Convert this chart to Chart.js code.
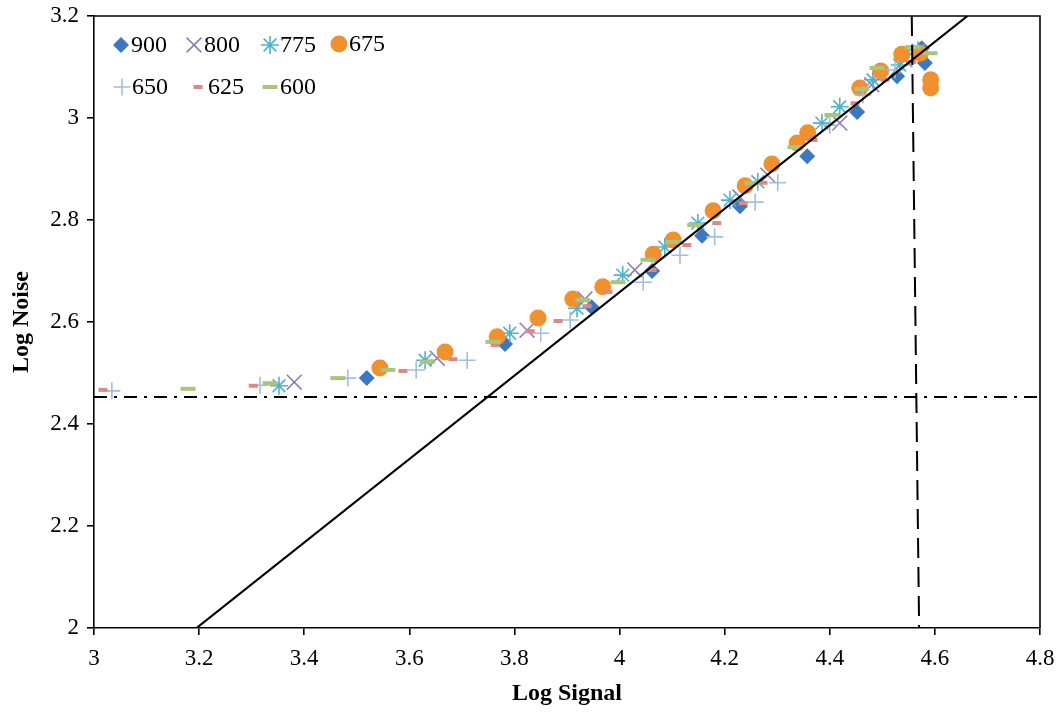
<!DOCTYPE html>
<html><head><meta charset="utf-8">
<script src="https://cdn.jsdelivr.net/npm/chart.js@4.4.1/dist/chart.umd.min.js"></script>
<style>html,body{margin:0;padding:0;background:#fff}#wrap{width:1059px;height:713px}</style>
</head><body><div id="wrap"><canvas id="c" width="1059" height="713"></canvas></div>
<script>
// ---- data ----
const seriesNames = ['900', '800', '775', '675', '650', '625', '600'];
const xTickLabels = ['3', '3.2', '3.4', '3.6', '3.8', '4', '4.2', '4.4', '4.6', '4.8'];
const yTickLabels = ['2', '2.2', '2.4', '2.6', '2.8', '3', '3.2'];

const s900 = [[3.519,2.490],[3.782,2.557],[3.947,2.629],[4.062,2.700],[4.157,2.769],[4.229,2.827],[4.357,2.925],[4.452,3.012],[4.528,3.082],[4.581,3.108],[4.575,3.137]];
const s800 = [[3.381,2.482],[3.653,2.529],[3.824,2.584],[3.934,2.645],[4.029,2.702],[4.229,2.845],[4.282,2.888],[4.419,2.990],[4.480,3.065],[4.543,3.114]];
const s775 = [[3.352,2.475],[3.630,2.525],[3.791,2.578],[3.919,2.627],[4.006,2.692],[4.086,2.747],[4.149,2.794],[4.210,2.839],[4.263,2.875],[4.385,2.990],[4.419,3.022],[4.482,3.075],[4.533,3.104],[4.568,3.133]];
const s675 = [[3.544,2.510],[3.668,2.541],[3.767,2.571],[3.845,2.608],[3.911,2.645],[3.968,2.669],[4.064,2.733],[4.102,2.761],[4.178,2.818],[4.239,2.867],[4.290,2.910],[4.338,2.951],[4.358,2.971],[4.457,3.059],[4.497,3.092],[4.537,3.125],[4.572,3.127],[4.592,3.075],[4.592,3.059]];
const s650 = [[3.034,2.465],[3.316,2.476],[3.483,2.490],[3.613,2.506],[3.710,2.525],[3.850,2.578],[3.906,2.604],[4.045,2.678],[4.115,2.731],[4.181,2.767],[4.258,2.835],[4.301,2.873],[4.400,2.986],[4.463,3.045],[4.524,3.094]];
const s625 = [[3.017,2.467],[3.303,2.475],[3.588,2.504],[3.683,2.527],[3.763,2.555],[3.830,2.582],[3.883,2.602],[3.938,2.631],[3.978,2.659],[4.062,2.702],[4.128,2.751],[4.185,2.794],[4.235,2.833],[4.273,2.873],[4.368,2.957],[4.448,3.029],[4.505,3.075],[4.556,3.110]];
const s600 = [[3.179,2.469],[3.335,2.480],[3.464,2.490],[3.559,2.506],[3.634,2.522],[3.759,2.561],[3.930,2.643],[3.997,2.678],[4.054,2.722],[4.102,2.757],[4.143,2.790],[4.252,2.873],[4.334,2.943],[4.404,3.006],[4.461,3.057],[4.490,3.098],[4.558,3.139],[4.591,3.127]];

const refLine = [[3.195,2.0],[4.662,3.2]];
const noiseFloor = [[3.0,2.453],[4.8,2.453]];
const saturation = [[4.556,3.2],[4.570,2.0]];

// ---- styles ----
const pts = a => a.map(p => ({x: p[0], y: p[1]}));
const styles = {
  '900': {pointStyle:'rectRot', radius:8, color:'#3C78C0', bw:0},
  '800': {pointStyle:'crossRot', radius:10.5, color:'#8F7DBD', bw:1.6},
  '775': {pointStyle:'star', radius:9, color:'#4FB3CC', bw:1.6},
  '675': {pointStyle:'circle', radius:8.5, color:'#F0912F', bw:0},
  '650': {pointStyle:'cross', radius:8.5, color:'#A3BCE2', bw:1.6},
  '625': {pointStyle:'line', radius:4.5, color:'#DB8886', bw:4},
  '600': {pointStyle:'line', radius:7.5, color:'#A9C57A', bw:4}
};
const seriesData = {'900':s900,'800':s800,'775':s775,'675':s675,'650':s650,'625':s625,'600':s600};

const datasets = [
  {label:'ref', data:pts(refLine), showLine:true, borderColor:'#000', borderWidth:2.2, pointRadius:0, order:0},
  {label:'floor', data:pts(noiseFloor), showLine:true, borderColor:'#000', borderWidth:2, borderDash:[13,7,3,7], pointRadius:0, order:0},
  {label:'sat', data:pts(saturation), showLine:true, borderColor:'#000', borderWidth:2, borderDash:[20,9], pointRadius:0, order:0}
];
seriesNames.forEach((n, i) => {
  const st = styles[n];
  datasets.push({
    label: n, data: pts(seriesData[n]), showLine:false,
    pointStyle: st.pointStyle, pointRadius: st.radius, pointHoverRadius: st.radius,
    backgroundColor: st.color, borderColor: st.color, pointBorderWidth: st.bw,
    order: 10 - i
  });
});

const serif = "'Liberation Serif', 'Times New Roman', serif";

const boxPlugin = {
  id: 'box',
  afterDraw(chart) {
    const {ctx, chartArea: a} = chart;
    ctx.save();
    ctx.strokeStyle = '#000';
    ctx.lineWidth = 1.6;
    ctx.beginPath();
    ctx.moveTo(a.left, a.top); ctx.lineTo(a.right, a.top); ctx.lineTo(a.right, a.bottom);
    ctx.stroke();
    ctx.restore();
  }
};

const legendPlugin = {
  id: 'innerLegend',
  afterDraw(chart) {
    const ctx = chart.ctx;
    const pos = [[121,45],[194,45],[270,45],[339,44],[122,87],[198,87],[270,87]];
    ctx.save();
    ctx.font = "24px " + serif;
    ctx.textBaseline = 'middle';
    seriesNames.forEach((n, i) => {
      const st = styles[n];
      const [x, y] = pos[i];
      ctx.fillStyle = st.color; ctx.strokeStyle = st.color; ctx.lineWidth = st.bw;
      Chart.helpers.drawPoint(ctx, {pointStyle: st.pointStyle, radius: st.radius, rotation: 0, borderWidth: st.bw}, x, y);
      ctx.fillStyle = '#000';
      ctx.fillText(n, x + 10, y + 1);
    });
    ctx.restore();
  }
};

new Chart(document.getElementById('c'), {
  type: 'scatter',
  data: {datasets},
  options: {
    responsive: false, animation: false,
    layout: {padding: {left: 0, right: 19, top: 16, bottom: 0}},
    plugins: {legend: {display: false}, tooltip: {enabled: false}},
    scales: {
      x: {
        type: 'linear', min: 3, max: 4.8,
        afterBuildTicks: s => { s.ticks = xTickLabels.map(t => ({value: parseFloat(t)})); },
        afterFit: s => { s.height = 85; s.paddingLeft = 0; s.paddingRight = 0; },
        ticks: {callback: (v, i) => xTickLabels[i], color: '#000', font: {family: serif, size: 23}, padding: 10, maxRotation: 0, autoSkip: false},
        grid: {drawOnChartArea: false, drawTicks: true, tickLength: 7, color: '#000', lineWidth: 1.6},
        border: {color: '#000', width: 1.6},
        title: {display: true, text: 'Log Signal', color: '#000', font: {family: serif, size: 24, weight: 'bold'}, padding: {top: 0, bottom: 5}}
      },
      y: {
        type: 'linear', min: 2, max: 3.2,
        afterBuildTicks: s => { s.ticks = yTickLabels.map(t => ({value: parseFloat(t)})); },
        afterFit: s => { s.width = 94; s.paddingTop = 0; s.paddingBottom = 0; },
        ticks: {callback: (v, i) => yTickLabels[i], color: '#000', font: {family: serif, size: 23}, padding: 8, autoSkip: false},
        grid: {drawOnChartArea: false, drawTicks: true, tickLength: 7, color: '#000', lineWidth: 1.6},
        border: {color: '#000', width: 1.6},
        title: {display: true, text: 'Log Noise', color: '#000', font: {family: serif, size: 24, weight: 'bold'}, padding: {top: 7, bottom: 0}}
      }
    }
  },
  plugins: [boxPlugin, legendPlugin]
});
</script>
</body></html>
